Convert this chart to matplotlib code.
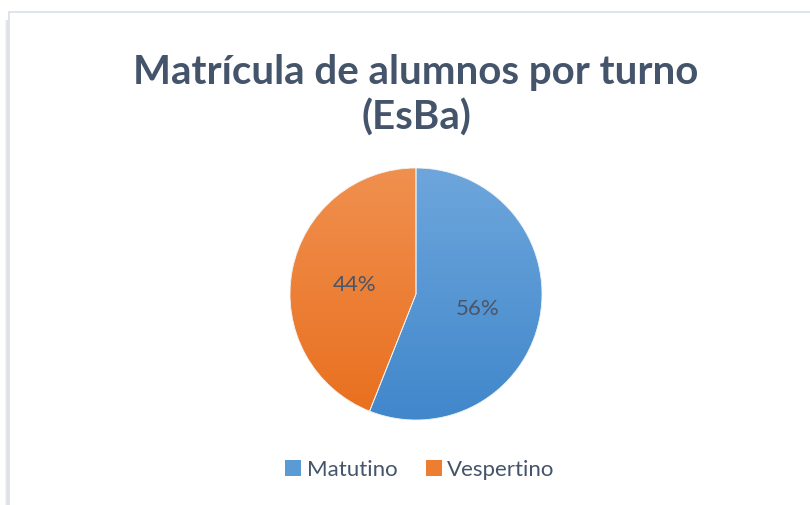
import numpy as np
import matplotlib
matplotlib.use("Agg")
import matplotlib.pyplot as plt
from matplotlib.colors import LinearSegmentedColormap
from matplotlib.patches import Rectangle, Wedge

# ---------------------------------------------------------------------
# Data
# ---------------------------------------------------------------------
TITLE = "Matrícula de alumnos por turno\n(EsBa)"
LABELS = ["Matutino", "Vespertino"]
VALUES = [56, 44]
COLORS_TOP = ["#6EA6DC", "#F0904F"]
COLORS_BOTTOM = ["#4087CB", "#E96F1E"]
BASE_COLORS = ["#5B9BD5", "#ED7D31"]

W, H = 810, 505
TEXT_COLOR = "#44546A"

plt.rcParams["font.family"] = ["Lato", "DejaVu Sans"]

fig = plt.figure(figsize=(W / 100, H / 100), dpi=100)
fig.patch.set_facecolor("white")

# frame with a faint shadow on the left
for i, c in enumerate(["#F2F2F2", "#E8E8E8", "#E0E0E0"]):
    fig.patches.append(Rectangle((5 + i, -10), 2, 505 - 10, transform=None,
                                 facecolor=c, edgecolor="none", zorder=0))
fig.patches.append(Rectangle((9, -10), 820, 505 - 11 + 10 - 0.5,
                             transform=None, fill=False,
                             edgecolor="#DCE1E8", linewidth=1.3, zorder=1))

# pixel-space axes: y up, origin bottom-left
ax = fig.add_axes([0, 0, 1, 1])

cx, cy, r = 416, H - 294, 126

wedges, _, autotexts = ax.pie(
    VALUES,
    colors=BASE_COLORS,
    startangle=90,
    counterclock=False,
    center=(cx, cy),
    radius=r,
    autopct="%1.0f%%",
    pctdistance=0.5,
    wedgeprops=dict(edgecolor="white", linewidth=0.6),
    textprops=dict(fontsize=16, color="#4A5568"),
    frame=True,
)

# vertical gradient fill clipped to each wedge
grad = np.linspace(0, 1, 256).reshape(-1, 1)
for wedge, top, bottom in zip(wedges, COLORS_TOP, COLORS_BOTTOM):
    cmap = LinearSegmentedColormap.from_list("g", [bottom, top])
    im = ax.imshow(grad, cmap=cmap, origin="lower", aspect="auto",
                   extent=(cx - r, cx + r, cy - r, cy + r),
                   zorder=wedge.get_zorder() + 0.1)
    im.set_clip_path(wedge)
    ax.add_patch(Wedge(wedge.center, wedge.r, wedge.theta1, wedge.theta2,
                       facecolor="none", edgecolor="#F4F4F4", linewidth=0.6,
                       zorder=wedge.get_zorder() + 0.2))
for t in autotexts:
    t.set_zorder(5)
    x, y = t.get_position()
    t.set_position((x, y - 3))

ax.set_xlim(0, W)
ax.set_ylim(0, H)
ax.set_aspect("equal")
ax.axis("off")

fig.text(416 / W, 1 - 95 / H, TITLE, ha="center", va="center",
         fontsize=29, fontweight="bold", color=TEXT_COLOR, linespacing=1.25)

handles = [Rectangle((0, 0), 1, 1, facecolor=c) for c in BASE_COLORS]
fig.legend(handles, LABELS, loc="center", bbox_to_anchor=(420 / W, 1 - 470 / H),
           ncol=2, frameon=False, fontsize=16, labelcolor=TEXT_COLOR,
           handlelength=0.7, handleheight=0.7, handletextpad=0.25, columnspacing=1.3)

fig.savefig("out.png", dpi=100, facecolor="white")
